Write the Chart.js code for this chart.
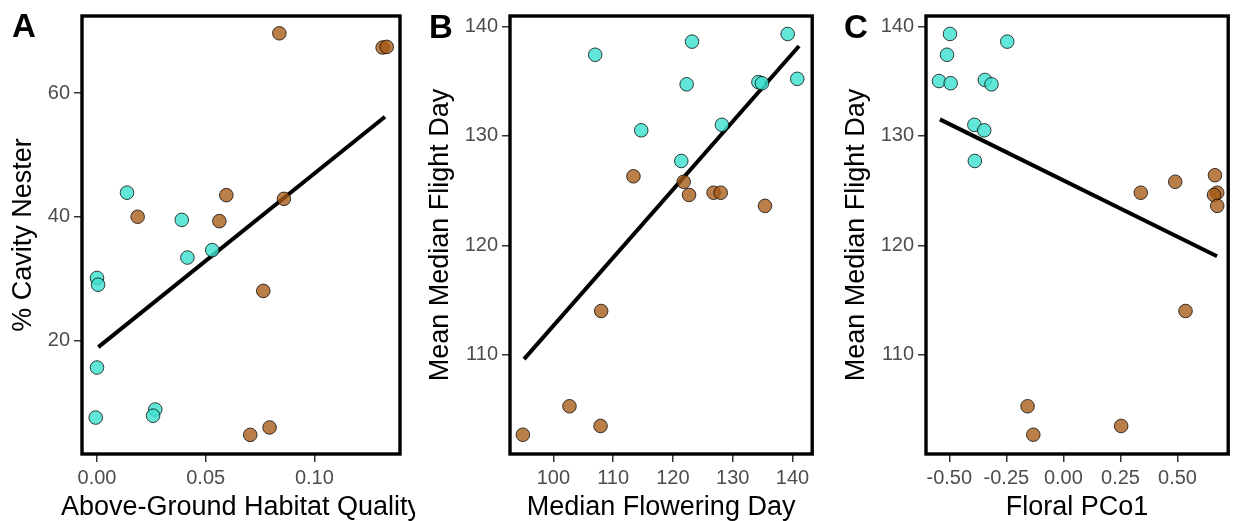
<!DOCTYPE html>
<html>
<head>
<meta charset="utf-8">
<script src="https://cdn.jsdelivr.net/npm/chart.js@4.4.1/dist/chart.umd.min.js"></script>
<style>
  body { margin: 0; background: #fff; }
  #wrap { position: relative; width: 1236px; height: 521px; overflow: hidden; }
  .panel { position: absolute; top: 0; }
  .tag { position: absolute; font-family: 'Liberation Sans', Arial, sans-serif; font-weight: bold; font-size: 33px; line-height: 1; color: #000; }
</style>
</head>
<body>
<div id="wrap">
  <canvas id="chartA" class="panel" width="415" height="521" style="left:0"></canvas>
  <canvas id="chartB" class="panel" width="405" height="521" style="left:415px"></canvas>
  <canvas id="chartC" class="panel" width="416" height="521" style="left:820px"></canvas>
  <div class="tag" style="left:12px;top:9px">A</div>
  <div class="tag" style="left:429px;top:10px">B</div>
  <div class="tag" style="left:844px;top:10px">C</div>
</div>
<script>
Chart.defaults.font.family = "'Liberation Sans', Arial, sans-serif";
Chart.defaults.color = '#4d4d4d';

const TEAL = 'rgba(64,224,208,0.82)';
const BROWN = 'rgba(166,90,22,0.78)';

// A: habitat quality vs % cavity nesters
const habitatTeal = [0.0138, 0.039, 0.0416, 0.053, 0.0, 0.0005, 0.0, -0.0006, 0.0268, 0.0258];
const cavityTeal = [43.9, 39.5, 33.4, 34.6, 30.1, 29.0, 15.6, 7.5, 8.8, 7.8];
const habitatBrown = [0.0839, 0.1314, 0.1333, 0.0187, 0.0563, 0.0595, 0.086, 0.0765, 0.0705, 0.0794];
const cavityBrown = [69.7, 67.4, 67.5, 40.0, 39.3, 43.5, 42.9, 28.0, 4.7, 5.9];
const habitatFitX = [0.0006, 0.1325];
const habitatFitY = [18.9, 56.2];
const habitatTicks = [0, 0.05, 0.10];
const cavityTicks = [20, 40, 60];

// B: flowering day vs flight day
const floweringTeal = [107.0, 123.2, 139.2, 122.3, 134.3, 134.9, 140.8, 114.7, 128.2, 121.4];
const flightTealB = [137.4, 138.6, 139.3, 134.7, 134.9, 134.8, 135.2, 130.5, 131.0, 127.7];
const floweringBrown = [113.4, 121.8, 122.7, 126.8, 128.0, 135.4, 108.0, 102.7, 107.9, 94.9];
const flightBrownB = [126.3, 125.8, 124.6, 124.8, 124.8, 123.6, 114.0, 105.3, 103.5, 102.7];
const floweringFitX = [95.1, 141.1];
const floweringFitY = [109.6, 138.2];
const floweringTicks = [100, 110, 120, 130, 140];

// C: floral PCo1 vs flight day
const pcoTeal = [-0.497, -0.510, -0.246, -0.545, -0.494, -0.344, -0.315, -0.390, -0.347, -0.388];
const flightTealC = [139.3, 137.4, 138.6, 135.0, 134.8, 135.1, 134.7, 131.0, 130.5, 127.7];
const pcoBrown = [0.664, 0.490, 0.339, 0.674, 0.660, 0.674, 0.535, -0.157, -0.132, 0.253];
const flightBrownC = [126.4, 125.8, 124.8, 124.8, 124.6, 123.6, 114.0, 105.3, 102.7, 103.5];
const pcoFitX = [-0.541, 0.673];
const pcoFitY = [131.5, 119.0];
const pcoTicks = [-0.50, -0.25, 0, 0.25, 0.50];
const flightTicks = [110, 120, 130, 140];

const pairs = (xs, ys) => xs.map((x, i) => ({ x, y: ys[i] }));

// black frame around the panel, plus the x title drawn unsqueezed
// (the built-in title shrinks long text to the axis width)
const frame = {
  id: 'frame',
  afterDatasetsDraw(chart, args, opts) {
    const { ctx, chartArea: a } = chart;
    ctx.save();
    ctx.strokeStyle = '#000';
    ctx.lineWidth = 3.4;
    ctx.strokeRect(a.left, a.top, a.right - a.left, a.bottom - a.top);
    ctx.fillStyle = '#000';
    ctx.font = "27px 'Liberation Sans', Arial, sans-serif";
    ctx.textAlign = 'center';
    ctx.textBaseline = 'alphabetic';
    ctx.fillText(opts.xTitle, (a.left + a.right) / 2, 515);
    ctx.restore();
  },
};

function dots(data, color) {
  return {
    type: 'scatter', data, backgroundColor: color, borderColor: 'rgba(0,0,0,0.75)',
    borderWidth: 1, pointRadius: 6.8, pointHoverRadius: 6.8,
  };
}

function renderPanel(canvasId, p) {
  const canvas = document.getElementById(canvasId);
  new Chart(canvas, {
    type: 'scatter',
    data: {
      datasets: [
        dots(pairs(p.tealX, p.tealY), TEAL),
        dots(pairs(p.brownX, p.brownY), BROWN),
        {
          type: 'line', data: pairs(p.fitX, p.fitY), borderColor: '#000', borderWidth: 4,
          pointRadius: 0, fill: false, borderCapStyle: 'butt',
        },
      ],
    },
    options: {
      responsive: false, animation: false,
      layout: { padding: { left: 0, right: p.padRight, top: 14, bottom: 0 } },
      plugins: { legend: { display: false }, tooltip: { enabled: false }, frame: { xTitle: p.xTitle } },
      scales: {
        x: {
          type: 'linear', min: p.xMin, max: p.xMax,
          afterFit: s => { s.height = 67; },
          afterBuildTicks: s => { s.ticks = p.xTicks.map(value => ({ value })); },
          grid: { drawOnChartArea: false, tickLength: 8, color: '#333', lineWidth: 1.5 },
          border: { display: false },
          ticks: { font: { size: 20 }, color: '#4d4d4d', padding: 4, callback: p.xFmt },
        },
        y: {
          type: 'linear', min: p.yMin, max: p.yMax,
          afterFit: s => { s.width = p.yWidth; },
          afterBuildTicks: s => { s.ticks = p.yTicks.map(value => ({ value })); },
          grid: { drawOnChartArea: false, tickLength: 8, color: '#333', lineWidth: 1.5 },
          border: { display: false },
          ticks: { font: { size: 20 }, color: '#4d4d4d', padding: 4 },
          title: { display: true, text: p.yTitle, color: '#000', font: { size: 27 }, padding: { top: p.yTitlePad, bottom: 0 } },
        },
      },
    },
    plugins: [frame],
  });
}

renderPanel('chartA', {
  tealX: habitatTeal, tealY: cavityTeal, brownX: habitatBrown, brownY: cavityBrown,
  fitX: habitatFitX, fitY: habitatFitY,
  xMin: -0.0069, xMax: 0.1394, yMin: 1.6, yMax: 72.5,
  xTicks: habitatTicks, yTicks: cavityTicks, xFmt: v => v.toFixed(2),
  xTitle: 'Above-Ground Habitat Quality', yTitle: '% Cavity Nester',
  yWidth: 82, padRight: 15, yTitlePad: 7,
});

renderPanel('chartB', {
  tealX: floweringTeal, tealY: flightTealB, brownX: floweringBrown, brownY: flightBrownB,
  fitX: floweringFitX, fitY: floweringFitY,
  xMin: 92.75, xMax: 143.3, yMin: 100.94, yMax: 140.94,
  xTicks: floweringTicks, yTicks: flightTicks, xFmt: v => String(v),
  xTitle: 'Median Flowering Day', yTitle: 'Mean Median Flight Day',
  yWidth: 95, padRight: 3.3, yTitlePad: 9,
});

renderPanel('chartC', {
  tealX: pcoTeal, tealY: flightTealC, brownX: pcoBrown, brownY: flightBrownC,
  fitX: pcoFitX, fitY: pcoFitY,
  xMin: -0.602, xMax: 0.722, yMin: 100.94, yMax: 140.94,
  xTicks: pcoTicks, yTicks: flightTicks, xFmt: v => v.toFixed(2),
  xTitle: 'Floral PCo1', yTitle: 'Mean Median Flight Day',
  yWidth: 106, padRight: 6.7, yTitlePad: 20,
});
</script>
</body>
</html>
